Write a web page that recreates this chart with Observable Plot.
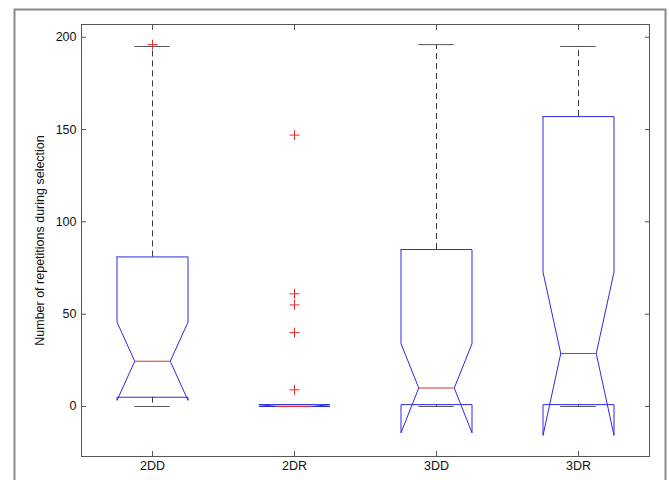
<!DOCTYPE html>
<html><head><meta charset="utf-8">
<script src="https://cdn.jsdelivr.net/npm/d3@7"></script>
<script src="https://cdn.jsdelivr.net/npm/@observablehq/plot@0.6"></script>
<style>body{margin:0;background:#fff;overflow:hidden}</style>
</head><body><div id="chart"></div>
<script>
const categories = ["2DD", "2DR", "3DD", "3DR"];
const lowerWhisker = [0, 0, 0, 0];
const q1 = [5, 0, 1, 1];
const notchLow = [3.3, 0, -14.3, -15.7];
const median = [24.5, 0, 10, 28.7];
const notchHigh = [45.7, 1, 34, 72.8];
const q3 = [81, 1, 85, 157];
const upperWhisker = [195, 1, 196, 195];
const outlierGroup = ["2DD", "2DR", "2DR", "2DR", "2DR", "2DR"];
const outlierValue = [196, 147, 61, 55, 40, 9];
const yTicks = [0, 50, 100, 150, 200];

const BLUE = "#2b2bdd", RED = "#e02a2a", DARK = "#3a3a3a";
const W = 0.25, N = 0.125;

const stats = categories.map((c, i) => ({
  c, pos: i + 1, lw: lowerWhisker[i], q1: q1[i], nl: notchLow[i],
  med: median[i], nh: notchHigh[i], q3: q3[i], uw: upperWhisker[i]
}));

const boxPts = stats.flatMap(s => [
  [s.pos - W, s.q3], [s.pos - W, s.nh], [s.pos - N, s.med], [s.pos - W, s.nl],
  [s.pos - W, s.q1], [s.pos + W, s.q1], [s.pos + W, s.nl], [s.pos + N, s.med],
  [s.pos + W, s.nh], [s.pos + W, s.q3], [s.pos - W, s.q3]
].map(([px, py]) => ({g: s.c, px, py})));

const outliers = outlierGroup.map((g, i) => ({pos: categories.indexOf(g) + 1, v: outlierValue[i]}));

const FS = 12.5;
const chart = Plot.plot({
  width: 669, height: 480,
  marginLeft: 81, marginRight: 20, marginTop: 24, marginBottom: 24,
  style: {fontFamily: "'Liberation Sans', Arial, sans-serif", fontSize: FS + "px", color: "#111", background: "#fff"},
  x: {domain: [0.5, 4.5], label: null},
  y: {domain: [-27.1, 206.9], label: null},
  marks: [
    Plot.frame({stroke: "#8a8a8a", strokeWidth: 2, insetLeft: -67, insetTop: -15, insetRight: -16, insetBottom: -40}),
    Plot.ruleX(stats, {x: "pos", y1: "q3", y2: "uw", stroke: DARK, strokeDasharray: "6,4"}),
    Plot.ruleX(stats, {x: "pos", y1: "q1", y2: "lw", stroke: DARK, strokeDasharray: "6,4"}),
    Plot.ruleY(stats, {y: "uw", x1: d => d.pos - N, x2: d => d.pos + N, stroke: "#555"}),
    Plot.ruleY(stats, {y: "lw", x1: d => d.pos - N, x2: d => d.pos + N, stroke: "#555"}),
    Plot.line(boxPts, {x: "px", y: "py", z: "g", stroke: BLUE, strokeWidth: 1}),
    Plot.ruleY(stats, {y: "med", x1: d => d.pos - N, x2: d => d.pos + N, stroke: RED}),
    Plot.dot(outliers, {x: "pos", y: "v", symbol: "plus", r: 3.3, stroke: RED, strokeWidth: 1}),
    Plot.axisY({anchor: "left", ticks: yTicks, tickSize: -5, tickPadding: 10, stroke: "#555", fontSize: FS,
      label: "Number of repetitions during selection", labelAnchor: "center", labelOffset: 46, labelArrow: "none"}),
    Plot.axisY({anchor: "right", ticks: yTicks, tickSize: -5, tickFormat: () => "", label: null, stroke: "#555"}),
    Plot.axisX({anchor: "bottom", ticks: [1, 2, 3, 4], tickSize: -5, tickPadding: 10, fontSize: FS, tickFormat: d => categories[d - 1], label: null, stroke: "#555"}),
    Plot.axisX({anchor: "top", ticks: [1, 2, 3, 4], tickSize: -5, tickFormat: () => "", label: null, stroke: "#555"}),
    Plot.frame({stroke: "#555"})
  ]
});
document.getElementById("chart").append(chart);
</script></body></html>
